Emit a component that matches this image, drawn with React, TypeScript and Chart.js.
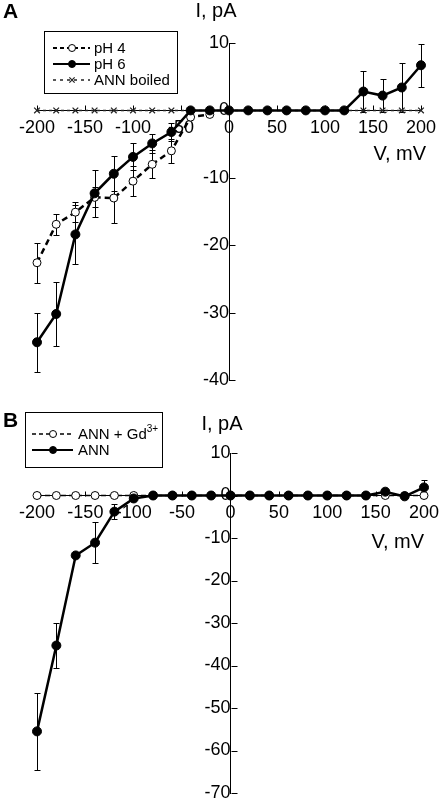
import React, { useEffect, useRef } from 'react';
import { Chart, registerables } from 'chart.js';

Chart.register(...registerables);

const FONT = '"Liberation Sans", Arial, Helvetica, sans-serif';

// ---------- Data: panel A ----------
const voltagesA = [-200, -180, -160, -140, -120, -100, -80, -60, -40, -20, 0, 20, 40, 60, 80, 100, 120, 140, 160, 180, 200];
const voltagesPH4 = [-200, -180, -160, -140, -120, -100, -80, -60, -40, -20];
const currentPH4 = [-22.6, -16.9, -15.1, -12.9, -13.0, -10.5, -8.0, -6.0, -1.0, -0.6];
const errorPH4 = [3.0, 1.6, 1.5, 1.5, 3.7, 2.2, 2.1, 1.8, 0, 0];
const currentPH6 = [-34.4, -30.2, -18.4, -12.3, -9.4, -6.9, -4.9, -3.2, 0, 0, 0, 0, 0, 0, 0, 0, 0, 2.8, 2.2, 3.4, 6.7];
const errorPH6 = [4.4, 4.7, 4.4, 3.5, 2.6, 2.0, 1.4, 1.3, 0, 0, 0, 0, 0, 0, 0, 0, 0, 3.1, 2.4, 3.6, 3.2];
const currentBoiled = [0, 0, 0, 0, 0, 0, 0, 0, 0, 0, 0, 0, 0, 0, 0, 0, 0, 0, 0, 0, 0];

// ---------- Data: panel B ----------
const voltagesB = [-200, -180, -160, -140, -120, -100, -80, -60, -40, -20, 0, 20, 40, 60, 80, 100, 120, 140, 160, 180, 200];
const currentGd = [0, 0, 0, 0, 0, 0, 0, 0, 0, 0, 0, 0, 0, 0, 0, 0, 0, 0, 0, 0, 0];
const currentANN = [-55.5, -35.3, -14.1, -11.1, -3.8, -0.7, 0, 0, 0, 0, 0, 0, 0, 0, 0, 0, 0, 0, 0.9, -0.2, 1.9];
const errorANN = [9.0, 5.2, 0, 4.8, 1.8, 0, 0, 0, 0, 0, 0, 0, 0, 0, 0, 0, 0, 0, 0, 0, 1.8];

// ---------- Tick labels ----------
const xTickValues = [-200, -150, -100, -50, 0, 50, 100, 150, 200];
const yTickValuesA = [10, 0, -10, -20, -30, -40];
const yTickValuesB = [10, 0, -10, -20, -30, -40, -50, -60, -70];

const toPoints = (xs: number[], ys: number[]) => xs.map((x, i) => ({ x, y: ys[i] }));

const SUP: Record<string, string> = { '³': '3', '⁺': '+', '²': '2' };

function drawMarker(ctx: CanvasRenderingContext2D, ds: any, x: number, y: number, r: number) {
  ctx.save();
  ctx.setLineDash([]);
  ctx.strokeStyle = ds.pointBorderColor || '#000';
  ctx.lineWidth = ds.pointBorderWidth || 1;
  if (ds.pointStyle === 'crossRot') {
    ctx.beginPath();
    ctx.moveTo(x - r * 0.75, y - r * 0.75);
    ctx.lineTo(x + r * 0.75, y + r * 0.75);
    ctx.moveTo(x - r * 0.75, y + r * 0.75);
    ctx.lineTo(x + r * 0.75, y - r * 0.75);
    ctx.stroke();
  } else {
    ctx.fillStyle = ds.pointBackgroundColor || '#000';
    ctx.beginPath();
    ctx.arc(x, y, r, 0, Math.PI * 2);
    ctx.fill();
    ctx.stroke();
  }
  ctx.restore();
}

function drawLabel(ctx: CanvasRenderingContext2D, text: string, x: number, y: number, size: number) {
  let cx = x;
  let buf = '';
  let sup = false;
  const flush = () => {
    if (!buf) return;
    if (sup) {
      ctx.font = `${Math.round(size * 0.65)}px ${FONT}`;
      ctx.fillText(buf, cx, y - size * 0.35);
    } else {
      ctx.font = `${size}px ${FONT}`;
      ctx.fillText(buf, cx, y);
    }
    cx += ctx.measureText(buf).width;
    buf = '';
  };
  for (const ch of text) {
    const isSup = ch in SUP;
    if (isSup !== sup) {
      flush();
      sup = isSup;
    }
    buf += isSup ? SUP[ch] : ch;
  }
  flush();
}

const decorPlugin = {
  id: 'decor',
  beforeDatasetsDraw(chart: any) {
    const { ctx } = chart;
    const xs = chart.scales.x;
    const ys = chart.scales.y;
    const x0 = Math.round(xs.getPixelForValue(0)) + 0.5;
    const y0 = Math.round(ys.getPixelForValue(0)) + 0.5;
    ctx.save();
    ctx.strokeStyle = '#000';
    ctx.lineWidth = 1;
    ctx.setLineDash([]);
    ctx.beginPath();
    xs.ticks.forEach((t: any) => {
      const x = Math.round(xs.getPixelForValue(t.value)) + 0.5;
      ctx.moveTo(x, y0);
      ctx.lineTo(x, y0 - 5);
    });
    ys.ticks.forEach((t: any) => {
      const y = Math.round(ys.getPixelForValue(t.value)) + 0.5;
      ctx.moveTo(x0, y);
      ctx.lineTo(x0 + 6, y);
    });
    ctx.stroke();
    // error bars
    chart.data.datasets.forEach((ds: any) => {
      if (!ds.errors) return;
      ds.data.forEach((p: any, j: number) => {
        const e = ds.errors[j];
        if (!e) return;
        const x = Math.round(xs.getPixelForValue(p.x)) + 0.5;
        const yt = Math.round(ys.getPixelForValue(p.y + e)) + 0.5;
        const yb = Math.round(ys.getPixelForValue(p.y - e)) + 0.5;
        ctx.beginPath();
        ctx.moveTo(x, yt);
        ctx.lineTo(x, yb);
        ctx.moveTo(x - 3, yt);
        ctx.lineTo(x + 3, yt);
        ctx.moveTo(x - 3, yb);
        ctx.lineTo(x + 3, yb);
        ctx.stroke();
      });
    });
    ctx.restore();
  },
  afterDraw(chart: any, _args: any, opts: any) {
    const { ctx } = chart;
    ctx.save();
    ctx.fillStyle = '#000';
    // panel letter
    ctx.font = `bold 21px ${FONT}`;
    ctx.textAlign = 'left';
    ctx.textBaseline = 'alphabetic';
    ctx.fillText(opts.letter, opts.letterX, opts.letterY);
    // axis titles
    ctx.font = `20px ${FONT}`;
    ctx.textAlign = 'center';
    ctx.fillText(opts.yTitle, opts.yTitleX, opts.yTitleY);
    ctx.textAlign = 'right';
    ctx.fillText(opts.xTitle, opts.xTitleX, opts.xTitleY);
    // legend
    const lg = opts.legend;
    ctx.strokeStyle = '#000';
    ctx.lineWidth = 1;
    ctx.setLineDash([]);
    ctx.strokeRect(lg.box[0] + 0.5, lg.box[1] + 0.5, lg.box[2] - lg.box[0], lg.box[3] - lg.box[1]);
    chart.data.datasets.forEach((ds: any, i: number) => {
      const y = lg.rows[i];
      ctx.save();
      ctx.strokeStyle = ds.borderColor;
      ctx.lineWidth = ds.legendLineWidth || ds.borderWidth;
      ctx.setLineDash(ds.legendDash || []);
      ctx.beginPath();
      ctx.moveTo(lg.lineX1, y);
      ctx.lineTo(lg.lineX2, y);
      ctx.stroke();
      ctx.restore();
      drawMarker(ctx, ds, lg.markX, y, ds.legendRadius || 3.5);
      ctx.fillStyle = '#000';
      ctx.textAlign = 'left';
      ctx.textBaseline = 'middle';
      drawLabel(ctx, ds.label, lg.textX, y + 0.5, lg.fontSize);
    });
    ctx.restore();
  },
};

const zeroPad = (s: any) => {
  s.paddingLeft = 0;
  s.paddingRight = 0;
  s.paddingTop = 0;
  s.paddingBottom = 0;
};

function makeConfig(datasets: any[], yMin: number, yMax: number, yTicks: number[], padding: any, decor: any) {
  return {
    type: 'scatter' as const,
    data: { datasets },
    options: {
      responsive: false,
      animation: false as const,
      events: [],
      layout: { padding },
      plugins: {
        legend: { display: false },
        tooltip: { enabled: false },
        decor,
      },
      scales: {
        x: {
          type: 'linear' as const,
          min: -200,
          max: 200,
          position: { y: 0 },
          grid: { display: false, drawTicks: false },
          border: { display: true, color: '#000', width: 1 },
          ticks: {
            color: '#000',
            font: { size: 18, family: FONT },
            padding: 7,
            autoSkip: false,
            maxRotation: 0,
          },
          afterBuildTicks: (s: any) => {
            s.ticks = xTickValues.map((v) => ({ value: v }));
          },
          afterFit: zeroPad,
        },
        y: {
          type: 'linear' as const,
          min: yMin,
          max: yMax,
          position: { x: 0 },
          grid: { display: false, drawTicks: false },
          border: { display: true, color: '#000', width: 1 },
          ticks: {
            color: '#000',
            font: { size: 18, family: FONT },
            padding: 10,
            autoSkip: false,
          },
          afterBuildTicks: (s: any) => {
            s.ticks = yTicks.map((v) => ({ value: v }));
          },
          afterFit: zeroPad,
        },
      },
    },
    plugins: [decorPlugin],
  };
}

function configA() {
  const datasets = [
    {
      label: 'pH 4',
      data: toPoints(voltagesPH4, currentPH4),
      errors: errorPH4,
      showLine: true,
      borderColor: '#000',
      borderWidth: 2.5,
      borderDash: [6, 4],
      legendDash: [4, 3],
      legendLineWidth: 2,
      pointStyle: 'circle',
      pointRadius: 4,
      pointBackgroundColor: '#fff',
      pointBorderColor: '#000',
      pointBorderWidth: 1,
      clip: false,
      order: 1,
    },
    {
      label: 'pH 6',
      data: toPoints(voltagesA, currentPH6),
      errors: errorPH6,
      showLine: true,
      borderColor: '#000',
      borderWidth: 2.5,
      legendLineWidth: 2,
      pointStyle: 'circle',
      pointRadius: 4.5,
      pointBackgroundColor: '#000',
      pointBorderColor: '#000',
      pointBorderWidth: 1,
      clip: false,
      order: 0,
    },
    {
      label: 'ANN boiled',
      data: toPoints(voltagesA, currentBoiled),
      showLine: true,
      borderColor: '#222',
      borderWidth: 1.5,
      borderDash: [3, 3],
      legendDash: [3, 4],
      legendLineWidth: 1.5,
      pointStyle: 'crossRot',
      pointRadius: 4,
      pointBorderColor: '#222',
      pointBorderWidth: 1.2,
      clip: false,
      order: 2,
    },
  ];
  return makeConfig(datasets, -40, 10, yTickValuesA, { left: 37, right: 21, top: 43, bottom: 20 }, {
    letter: 'A',
    letterX: 3,
    letterY: 18,
    yTitle: 'I, pA',
    yTitleX: 216,
    yTitleY: 17,
    xTitle: 'V, mV',
    xTitleX: 426,
    xTitleY: 160,
    legend: {
      box: [44, 31, 177, 93],
      rows: [48, 64, 80],
      lineX1: 53,
      lineX2: 90,
      markX: 72,
      textX: 94,
      fontSize: 15,
    },
  });
}

function configB() {
  const datasets = [
    {
      label: 'ANN + Gd³⁺',
      data: toPoints(voltagesB, currentGd),
      showLine: true,
      borderColor: '#000',
      borderWidth: 1.5,
      borderDash: [5, 3],
      legendDash: [4, 3],
      legendLineWidth: 1.5,
      pointStyle: 'circle',
      pointRadius: 4,
      pointBackgroundColor: '#fff',
      pointBorderColor: '#000',
      pointBorderWidth: 1,
      clip: false,
      order: 1,
    },
    {
      label: 'ANN',
      data: toPoints(voltagesB, currentANN),
      errors: errorANN,
      showLine: true,
      borderColor: '#000',
      borderWidth: 2.5,
      legendLineWidth: 2,
      pointStyle: 'circle',
      pointRadius: 4.5,
      pointBackgroundColor: '#000',
      pointBorderColor: '#000',
      pointBorderWidth: 1,
      clip: false,
      order: 0,
    },
  ];
  return makeConfig(datasets, -70, 10, yTickValuesB, { left: 37, right: 18, top: 53, bottom: 9 }, {
    letter: 'B',
    letterX: 3,
    letterY: 27,
    yTitle: 'I, pA',
    yTitleX: 222,
    yTitleY: 30,
    xTitle: 'V, mV',
    xTitleX: 424,
    xTitleY: 148,
    legend: {
      box: [25, 12, 162, 67],
      rows: [34, 50],
      lineX1: 32,
      lineX2: 73,
      markX: 53,
      textX: 78,
      fontSize: 15,
    },
  });
}

function Panel({ make, height }: { make: () => any; height: number }) {
  const ref = useRef<HTMLCanvasElement>(null);
  useEffect(() => {
    const chart = new Chart(ref.current as HTMLCanvasElement, make());
    return () => chart.destroy();
  }, [make]);
  return <canvas ref={ref} width={442} height={height} style={{ display: 'block', width: 442, height }} />;
}

export default function App() {
  return (
    <div style={{ position: 'fixed', left: 0, top: 0, width: 442, height: 802, background: '#fff', overflow: 'hidden' }}>
      <Panel make={configA} height={400} />
      <Panel make={configB} height={402} />
    </div>
  );
}
